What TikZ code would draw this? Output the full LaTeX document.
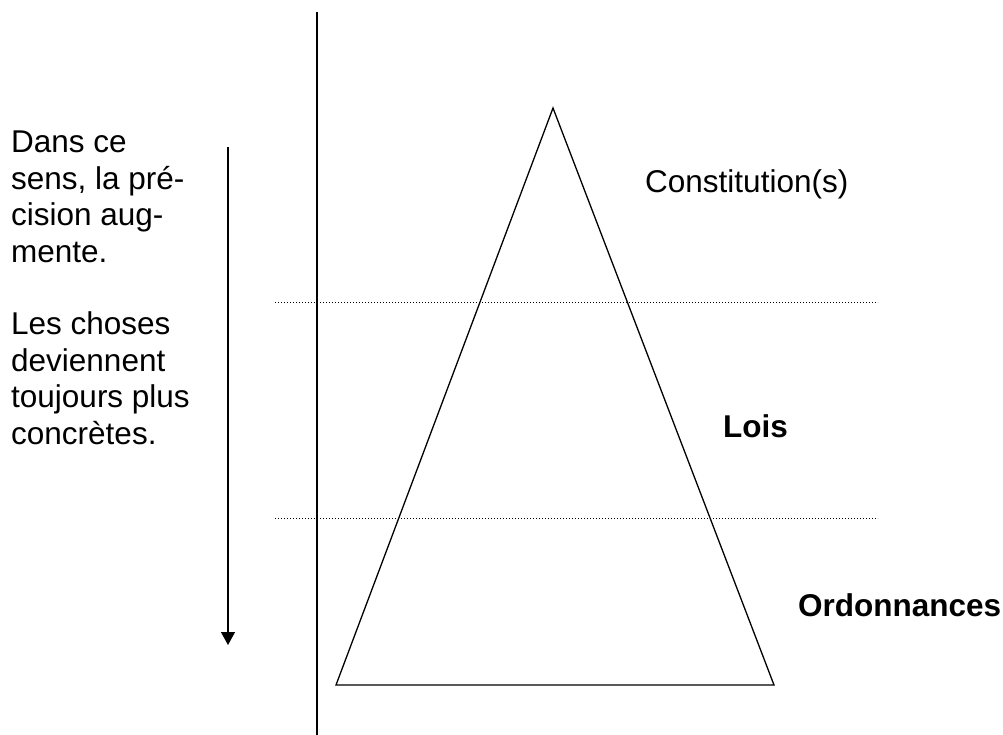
\documentclass[tikz,border=0pt]{standalone}
\usepackage{fontspec}
\setmainfont{Liberation Sans}
\usetikzlibrary{arrows.meta}
\begin{document}
\begin{tikzpicture}[x=1pt,y=-1pt]
    \tikzstyle{every node}+=[inner sep=0pt, font=\fontsize{31.5}{36.5}\selectfont]
    \tikzstyle{level}=[black, line width=0.9pt, dash pattern=on 0.9pt off 2.1pt]
    \useasboundingbox (0,0) rectangle (1003,735);
    \coordinate (top) at (553,108);
    \coordinate (left) at (336,685);
    \coordinate (right) at (774,685);
    \coordinate (axisA) at (317,12);
    \coordinate (axisB) at (317,735);
    \coordinate (arrowA) at (228,147);
    \coordinate (arrowB) at (228,645);
    \coordinate (lineA1) at (275,302);
    \coordinate (lineA2) at (878,302);
    \coordinate (lineB1) at (275,518);
    \coordinate (lineB2) at (878,518);
    \draw [black, line width=1.8pt] (axisA) -- (axisB);
    \draw [black, line width=1.3pt, line join=miter] (top) -- (right) -- (left) -- cycle;
    \draw [level] (lineA1) -- (lineA2);
    \draw [level] (lineB1) -- (lineB2);
    \draw [black, line width=1.3pt, -{Triangle[width=14pt,length=13pt]}] (arrowA) -- (arrowB);
    \node [anchor=base west, align=left] (sens) at (11,262) {Dans ce\\sens, la pré-\\cision aug-\\mente.};
    \node [anchor=base west, align=left] (choses) at (11,444) {Les choses\\deviennent\\toujours plus\\concrètes.};
    \node [anchor=base west] (constitution) at (645,193) {Constitution(s)};
    \node [anchor=base west, font=\fontsize{31.5}{36.5}\selectfont\bfseries] (lois) at (723,437) {Lois};
    \node [anchor=base west, font=\fontsize{31.5}{36.5}\selectfont\bfseries] (ordonnances) at (798,616) {Ordonnances};
\end{tikzpicture}
\end{document}
